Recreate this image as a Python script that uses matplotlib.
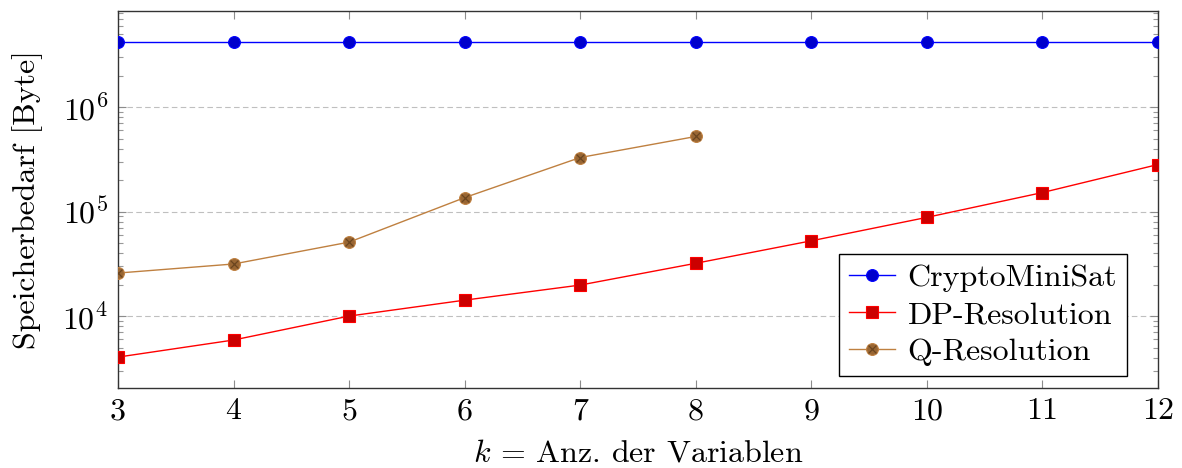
import matplotlib
matplotlib.use("Agg")
import matplotlib.pyplot as plt
from matplotlib.ticker import LogLocator, NullFormatter, FixedLocator
from matplotlib.legend_handler import HandlerTuple

plt.rcParams['font.family'] = 'cmr10'
plt.rcParams['mathtext.fontset'] = 'cm'
plt.rcParams['axes.formatter.use_mathtext'] = True

k = [3, 4, 5, 6, 7, 8, 9, 10, 11, 12]
crypto = [4.2e6] * 10
dp = [4050, 5900, 10000, 14200, 19800, 32000, 52500, 88000, 152000, 282000]
k_q = [3, 4, 5, 6, 7, 8]
qres = [25800, 31500, 51000, 136000, 329000, 523000]

blue = (0, 0, 1)
red = (1, 0, 0)
brown = (0.75, 0.5, 0.25)

FS = 23

fig = plt.figure(figsize=(11.82, 4.68), dpi=100)
ax = fig.add_axes([118/1182, 1-388/468, 1040/1182, 377/468])
ax.set_yscale('log')

ms = 8.5
h1, = ax.plot(k, crypto, color=blue, lw=1, marker='o', ms=ms,
              mfc=(0, 0, 0.8), mec=blue, mew=0.8, zorder=3)
h2, = ax.plot(k, dp, color=red, lw=1, marker='s', ms=ms,
              mfc=(0.8, 0, 0), mec=red, mew=0.8, zorder=3)
h3, = ax.plot(k_q, qres, color=brown, lw=1, marker='o', ms=ms,
              mfc=(0.6, 0.4, 0.2), mec=brown, mew=0.8, zorder=3)
h3x, = ax.plot(k_q, qres, ls='none', marker='x', ms=5.5,
               mec=(0.42, 0.27, 0.12), mew=0.9, zorder=4)

ax.set_xlim(3, 12)
ax.set_ylim(2050, 8.3e6)
ax.set_xticks(k)
ax.set_xticklabels([str(v) for v in k])
ax.yaxis.set_major_locator(FixedLocator([1e4, 1e5, 1e6]))
ax.set_yticklabels([r'$10^{4}$', r'$10^{5}$', r'$10^{6}$'])
ax.yaxis.set_minor_locator(LogLocator(base=10, subs=range(2, 10), numticks=20))
ax.yaxis.set_minor_formatter(NullFormatter())

ax.tick_params(axis='both', which='major', direction='in', length=6, width=0.8,
               color='0.55', labelsize=FS, top=True, right=True, pad=7)
ax.tick_params(axis='y', which='minor', direction='in', length=3.5, width=0.8,
               color='0.6', right=True, left=True)
ax.tick_params(axis='x', which='minor', bottom=False, top=False)

ax.yaxis.grid(True, which='major', color='0.75', lw=0.8, ls=(0, (5, 3)))
ax.set_axisbelow(True)
for s in ax.spines.values():
    s.set_linewidth(1.0)
    s.set_color('0.2')

ax.set_xlabel(r'$k$ = Anz. der Variablen', fontsize=FS, labelpad=11)
ax.set_ylabel('Speicherbedarf [Byte]', fontsize=FS, labelpad=14)

leg = ax.legend([h1, h2, (h3, h3x)], ['CryptoMiniSat', 'DP-Resolution', 'Q-Resolution'],
                handler_map={tuple: HandlerTuple(ndivide=1)},
                loc='lower right', bbox_to_anchor=(0.970, 0.032), borderaxespad=0,
                fontsize=FS, frameon=True, fancybox=False, edgecolor='black',
                framealpha=1, handlelength=1.45, handletextpad=0.4,
                labelspacing=0.28, borderpad=0.3)
leg.get_frame().set_linewidth(1.0)

fig.savefig('out.png', dpi=100)
